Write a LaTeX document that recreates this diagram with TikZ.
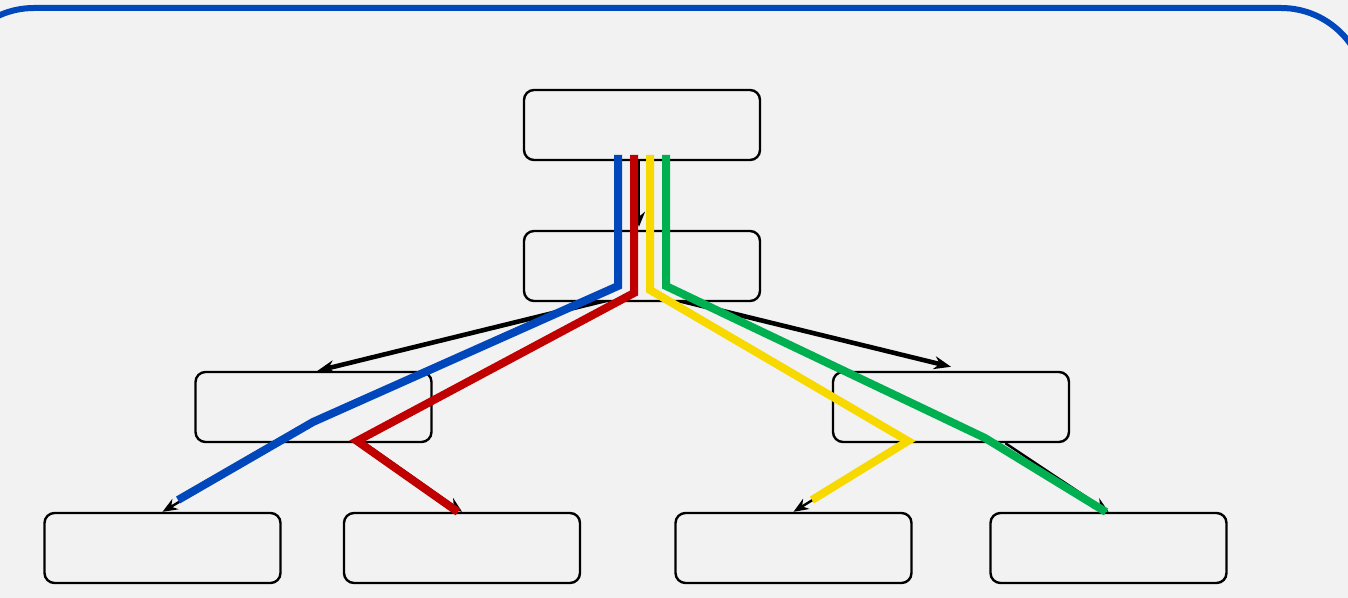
\documentclass[tikz,border=0pt]{standalone}
\usetikzlibrary{arrows.meta}
\definecolor{bg}{HTML}{F2F2F2}
\definecolor{frameblue}{HTML}{0047BB}
\definecolor{cblue}{HTML}{0047BB}
\definecolor{cred}{HTML}{C00000}
\definecolor{cyellow}{HTML}{F7D900}
\definecolor{cgreen}{HTML}{00B050}
\pgfdeclarelayer{paper}
\pgfdeclarelayer{edges}
\pgfsetlayers{paper,edges,main}
\begin{document}
\begin{tikzpicture}[x=0.5pt,y=-0.5pt,
  box/.style={draw=black,line width=1.2pt,fill=bg,rounded corners=5pt,
    minimum width=118pt,minimum height=35pt,inner sep=0pt},
  link/.style={draw=black,line width=1.2pt,-{Stealth[length=7.5pt,width=6pt]}},
  biglink/.style={draw=black,line width=2.3pt,-{Stealth[length=8.5pt,width=6.5pt]}},
  route/.style={line width=4pt,line join=miter,line cap=butt}]
\useasboundingbox (0,0) rectangle (1348,598);
% tree nodes
\node[box] (root) at (642,125) {};
\node[box] (hub) at (642,266) {};
\node[box] (lmid) at (313.5,407) {};
\node[box] (rmid) at (951,407) {};
\node[box] (b1) at (162.5,548) {};
\node[box] (b2) at (462,548) {};
\node[box] (b3) at (793.5,548) {};
\node[box] (b4) at (1108.5,548) {};
% page background and outer frame, partly outside the page
\begin{pgfonlayer}{paper}
  \fill[bg] (0,0) rectangle (1348,598);
  \begin{scope}
    \clip (0,0) rectangle (1348,598);
    \draw[frameblue,line width=3pt,rounded corners=42.5pt] (-51,8) rectangle (1366,720);
  \end{scope}
\end{pgfonlayer}
% tree edges, running out from under the boxes
\begin{pgfonlayer}{edges}
  \draw[link] ([xshift=-1.5pt]root.south) -- ([xshift=-1.5pt,yshift=1.5pt]hub.north);
  \draw[biglink] ([yshift=5.5pt]hub.south) -- ([xshift=2pt]lmid.north);
  \draw[biglink] ([yshift=5.5pt]hub.south) -- ([yshift=2pt]rmid.north);
  \draw[link] ([yshift=-7.5pt]lmid.center) -- (b1.north);
  \draw[link] (lmid) -- (b2.north);
  \draw[link] ([xshift=5.5pt]rmid.center) -- (b3.north);
  \draw[link] (rmid) -- (b4.north);
\end{pgfonlayer}
% coloured routes laid over the tree
\draw[route,cblue] (618,155) -- (618,286) -- (313,422) -- (178,500);
\draw[route,cred] (634,155) -- (634,293) -- (357,441) -- (458,512);
\draw[route,cyellow] (650,155) -- (650,290) -- (908,441) -- (812,500);
\draw[route,cgreen] (666,155) -- (666,286) -- (985,438) -- (1106,512);
\end{tikzpicture}
\end{document}
